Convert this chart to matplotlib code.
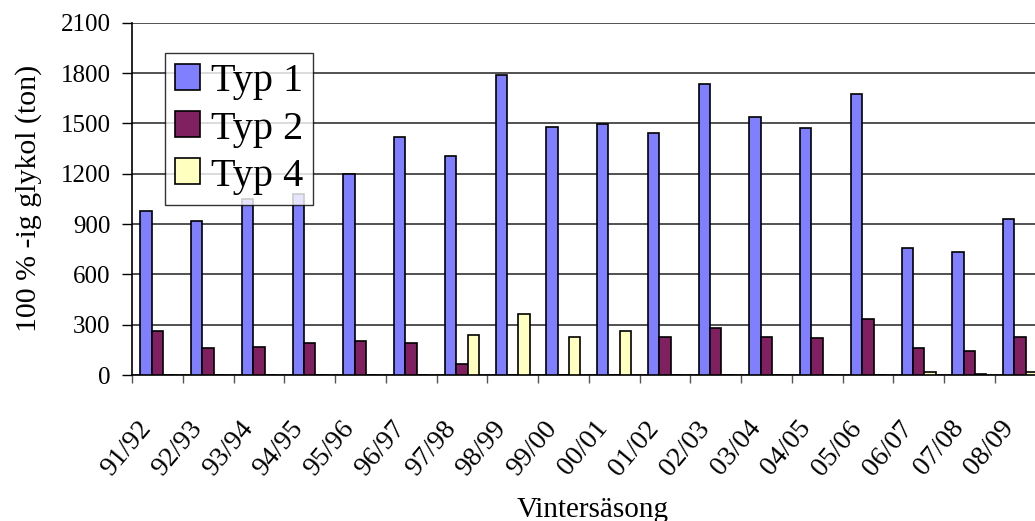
import matplotlib
matplotlib.use('Agg')
import matplotlib.pyplot as plt
from matplotlib.transforms import ScaledTranslation
import numpy as np

# Winter seasons and glycol use (ton, 100 %)
seasons = ['91/92', '92/93', '93/94', '94/95', '95/96', '96/97', '97/98', '98/99', '99/00',
           '00/01', '01/02', '02/03', '03/04', '04/05', '05/06', '06/07', '07/08', '08/09']
typ1 = [975, 915, 1050, 1080, 1200, 1420, 1307, 1788, 1480,
        1496, 1444, 1737, 1540, 1472, 1677, 759, 735, 930]
typ2 = [264, 161, 169, 189, 205, 189, 67, 0, 0,
        0, 228, 280, 228, 220, 332, 161, 145, 228]
typ4 = [0, 0, 0, 0, 0, 0, 238, 365, 228,
        264, 0, 0, 0, 0, 0, 16, 4, 16]
yticks = [0, 300, 600, 900, 1200, 1500, 1800, 2100]

plt.rcParams['font.family'] = ['Liberation Serif', 'DejaVu Serif']

fig = plt.figure(figsize=(10.35, 5.21), dpi=100)
# plot area continues past the right edge of the image
ax = fig.add_axes([132 / 1035, 1 - 375 / 521, 913.5 / 1035, (375 - 22.7) / 521])

x = np.arange(len(seasons))
w = 1 / 4.5
kw = dict(width=w, edgecolor='black', linewidth=1.2, zorder=3)
ax.bar(x - w, typ1, color='#8080FF', label='Typ 1', **kw)
ax.bar(x, typ2, color='#802060', label='Typ 2', **kw)
ax.bar(x + w, typ4, color='#FFFFC0', label='Typ 4', **kw)

ax.set_xlim(-0.5, len(seasons) - 0.5)
ax.set_ylim(0, 2100)
ax.set_yticks(yticks)
ax.tick_params(axis='y', labelsize=18, direction='out', length=7.5, width=1, pad=8)
ax.yaxis.grid(True, color='#333333', linewidth=1.2, zorder=0)

# category boundaries get tick marks, labels sit on category centres
ax.set_xticks(np.arange(len(seasons) + 1) - 0.5, minor=False)
ax.set_xticklabels([])
ax.tick_params(axis='x', which='major', direction='out', length=6, width=1, color='#555555')
ax.set_xticks(x, minor=True)
ax.tick_params(axis='x', which='minor', length=0, pad=26)
ax.set_xticklabels(seasons, minor=True, rotation=50, ha='right', va='top',
                   rotation_mode='anchor', fontsize=20)
shift = ScaledTranslation(-0.2, -0.05, fig.dpi_scale_trans)
for lbl in ax.get_xticklabels(minor=True):
    lbl.set_transform(lbl.get_transform() + shift)

for s in ['top', 'right']:
    ax.spines[s].set_visible(False)
ax.spines['left'].set_linewidth(1.2)
ax.spines['bottom'].set_linewidth(1.2)

ax.set_ylabel('100 % -ig glykol (ton)', fontsize=21.5, labelpad=13)
fig.text(593 / 1035, 4 / 521, 'Vintersäsong', fontsize=21, ha='center', va='baseline')

leg = ax.legend(loc='upper left', bbox_to_anchor=((165 - 132) / 913.5, (375 - 53) / 352.3),
                fontsize=29, frameon=True, fancybox=False, edgecolor='black',
                handlelength=0.62, handleheight=0.62, handletextpad=0.25,
                labelspacing=0.25, borderpad=0.26, borderaxespad=0)
leg.get_frame().set_linewidth(1)
leg.set_zorder(5)

fig.savefig('out.png', dpi=100)
